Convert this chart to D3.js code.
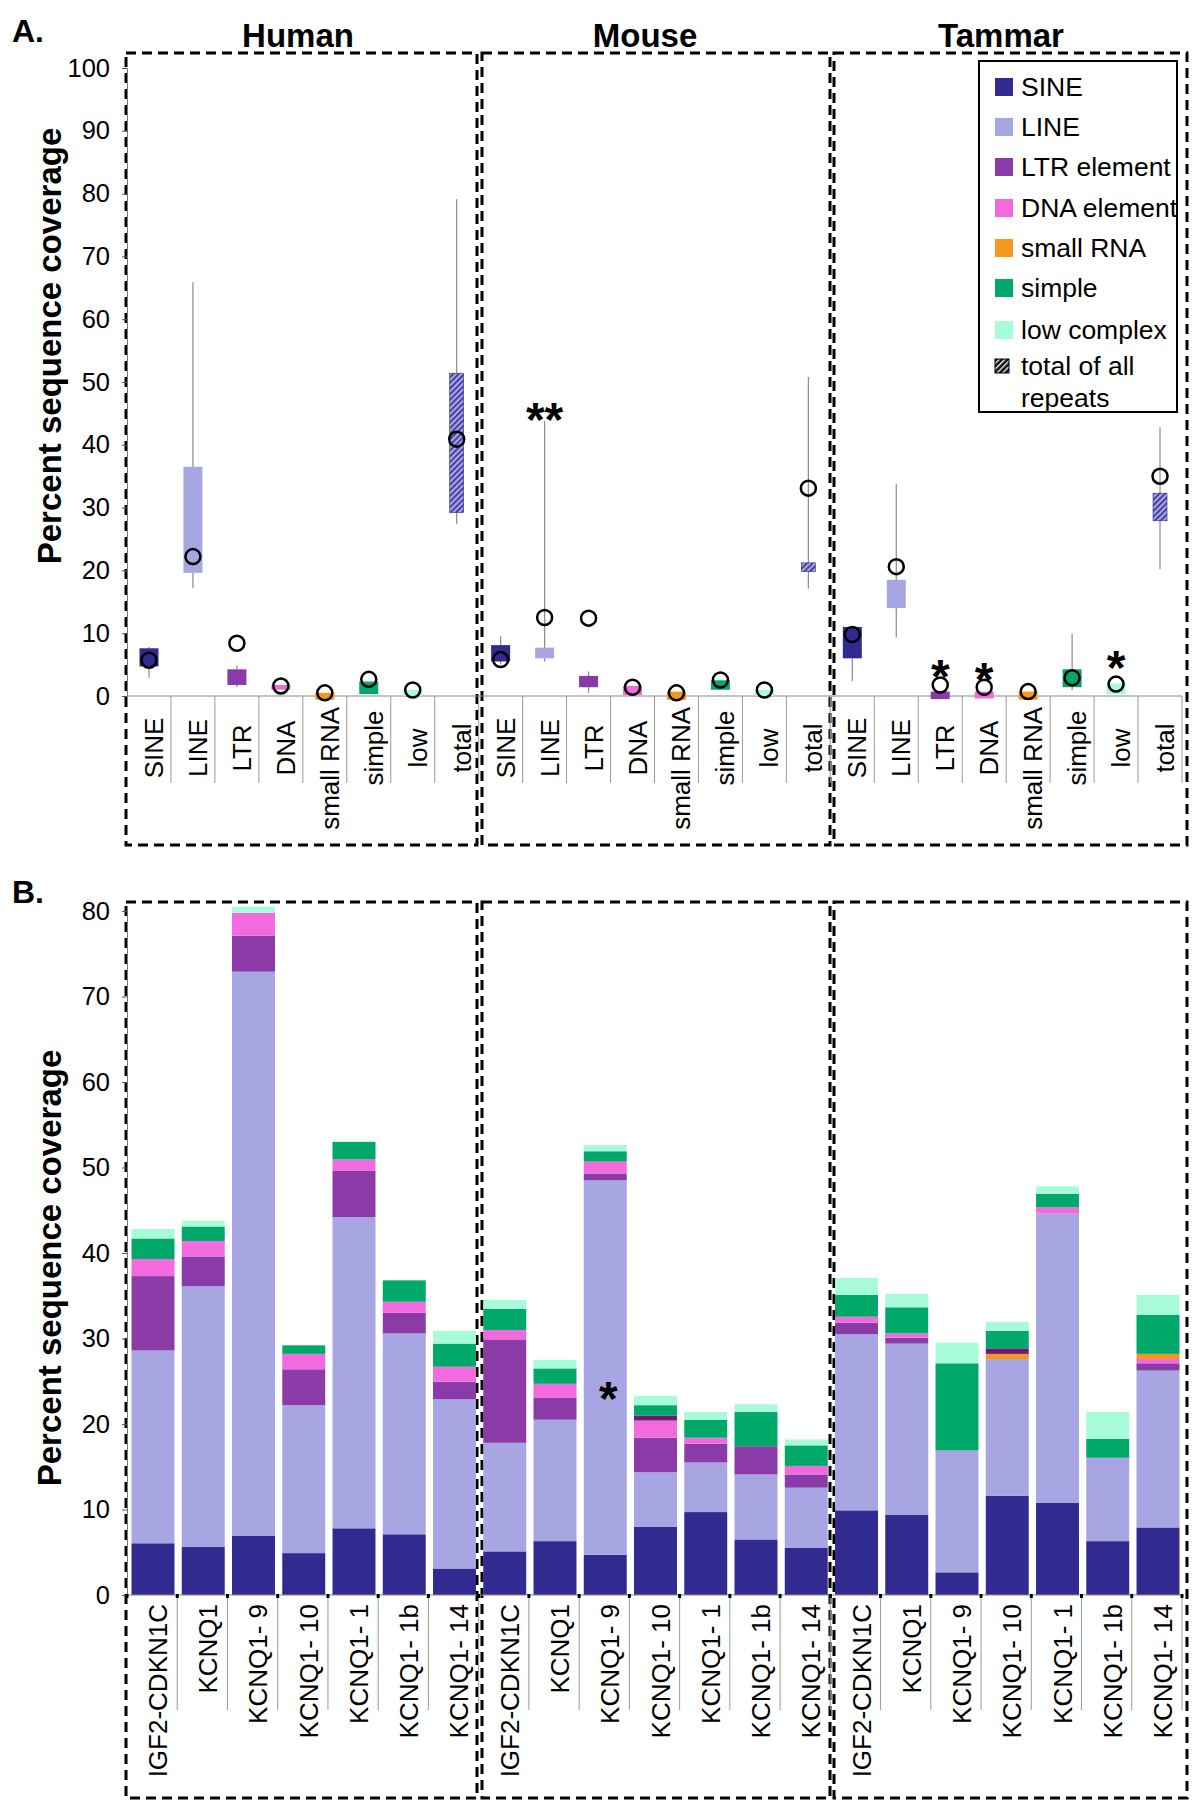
<!DOCTYPE html>
<html><head><meta charset="utf-8">
<script src="https://cdnjs.cloudflare.com/ajax/libs/d3/7.8.5/d3.min.js"></script>
<style>body{margin:0;background:#fff}svg{display:block}text{font-family:"Liberation Sans",Arial,sans-serif}</style>
</head><body>
<svg id="c" width="1200" height="1808"></svg>
<script>
// ---------- DATA ----------
const species = ["Human", "Mouse", "Tammar"];
const repeatCats = ["SINE", "LINE", "LTR", "DNA", "small RNA", "simple", "low", "total"];
const yTicksA = [0, 10, 20, 30, 40, 50, 60, 70, 80, 90, 100];
const yTicksB = [0, 10, 20, 30, 40, 50, 60, 70, 80];

// Panel A: box bottom / top, whisker low / high, circle value (per species, per repeat category)
const boxLo = {Human:[4.7,19.6,1.75,1.0,-0.6,0.3,0,29.2], Mouse:[5.5,6.0,1.4,0.15,-0.6,1.0,0,19.8], Tammar:[6.0,14.0,-0.5,-0.4,-0.6,1.4,0.3,27.9]};
const boxHi = {Human:[7.6,36.5,4.25,1.75,0.5,2.3,1.0,51.4], Mouse:[8.1,7.7,3.2,1.6,0.7,2.5,1.0,21.2], Tammar:[11.0,18.5,0.7,0.7,0.7,4.25,2.0,32.3]};
const whiskLo = {Human:[2.9,17.2,1.4,null,null,null,null,27.4], Mouse:[5.0,5.5,0.5,null,null,null,null,17.1], Tammar:[2.4,9.3,null,null,null,0.95,null,20.2]};
const whiskHi = {Human:[7.8,65.9,4.9,null,null,null,null,79.1], Mouse:[9.55,43.8,3.9,null,null,null,null,50.8], Tammar:[11.0,33.7,null,null,null,9.9,null,42.8]};
const circleVal = {Human:[5.7,22.2,8.4,1.6,0.5,2.65,0.95,40.9], Mouse:[5.8,12.5,12.4,1.4,0.5,2.55,0.95,33.1], Tammar:[9.8,20.6,1.75,1.4,0.7,2.9,1.9,35.0]};
// significance marks in panel A: [species, category, text, value at mark centre]
const marksA = [["Mouse","LINE","**",45.7],["Tammar","LTR","*",4.8],["Tammar","DNA","*",4.3],["Tammar","low","*",6.2]];

// Panel B: stacked bars
const regions = ["IGF2-CDKN1C", "KCNQ1", "KCNQ1- 9", "KCNQ1- 10", "KCNQ1- 1", "KCNQ1- 1b", "KCNQ1- 14"];
const stackKeys = ["SINE","LINE","LTR element","DNA element","small RNA","other","simple","low complex"];
const sineB   = {Human:[6.05,5.65,6.9,4.9,7.8,7.1,3.1],   Mouse:[5.1,6.3,4.7,8.0,9.7,6.5,5.5],   Tammar:[9.9,9.4,2.65,11.6,10.8,6.3,7.9]};
const lineB   = {Human:[22.55,30.45,66.0,17.3,36.4,23.5,19.8], Mouse:[12.7,14.2,43.8,6.35,5.8,7.6,7.05], Tammar:[20.6,20.0,14.25,16.0,33.8,9.75,18.35]};
const ltrB    = {Human:[8.7,3.5,4.2,4.2,5.4,2.4,2.05],    Mouse:[12.1,2.6,0.8,4.05,2.2,3.3,1.55], Tammar:[1.35,0.7,0,0,0,0,0.85]};
const dnaB    = {Human:[2.0,1.8,2.7,1.8,1.35,1.3,1.75],   Mouse:[1.1,1.6,1.4,2.0,0.7,0,1.0],     Tammar:[0.7,0.5,0,0,0.75,0,0.5]};
const srnaB   = {Human:[0,0,0,0,0,0,0],                   Mouse:[0,0,0,0,0,0,0],                 Tammar:[0,0,0,0.6,0,0,0.6]};
const otherB  = {Human:[0,0,0,0,0,0,0],                   Mouse:[0,0,0,0.6,0,0,0],               Tammar:[0,0,0,0.65,0,0,0]};
const simpleB = {Human:[2.4,1.7,0,1.0,2.05,2.5,2.7],      Mouse:[2.45,1.8,1.2,1.2,2.1,4.0,2.4],  Tammar:[2.55,3.05,10.2,2.05,1.55,2.2,4.55]};
const lowB    = {Human:[1.1,0.7,0.7,0,0,0,1.5],           Mouse:[1.05,1.0,0.7,1.1,0.9,0.9,0.7],  Tammar:[2.0,1.55,2.4,1.05,0.9,3.15,2.35]};
const marksB = [["Mouse","KCNQ1- 9","*",24.2]];

const legendLabels = ["SINE","LINE","LTR element","DNA element","small RNA","simple","low complex","total of all repeats"];

// ---------- STYLE ----------
const col = {"SINE":"#312b91","LINE":"#a7a6e2","LTR element":"#8a3ba7","DNA element":"#f26bde","small RNA":"#f7961f","other":"#6e1a6e","simple":"#00a86a","low complex":"#a8fbd9"};
const catColor = {"SINE":col["SINE"],"LINE":col["LINE"],"LTR":col["LTR element"],"DNA":col["DNA element"],"small RNA":col["small RNA"],"simple":col["simple"],"low":col["low complex"]};
const FONT = '"Liberation Sans",Arial,sans-serif';
const svg = d3.select("#c");
const defs = svg.append("defs");
const pat = defs.append("pattern").attr("id","hatch").attr("patternUnits","userSpaceOnUse").attr("width",4).attr("height",4).attr("patternTransform","rotate(45)");
pat.append("rect").attr("width",4).attr("height",4).attr("fill","#a7a6e2");
pat.append("rect").attr("width",1.6).attr("height",4).attr("fill","#312b91");
const pat2 = defs.append("pattern").attr("id","hatchLeg").attr("patternUnits","userSpaceOnUse").attr("width",4).attr("height",4).attr("patternTransform","rotate(45)");
pat2.append("rect").attr("width",4).attr("height",4).attr("fill","#111");
pat2.append("rect").attr("width",1.3).attr("height",4).attr("fill","#fff");

const X0 = 127, X1 = 1182;
const boxes = [[126,477],[482,830],[834,1187]];

function dashedBoxes(top, bottom){
  svg.append("g").selectAll("rect").data(boxes).join("rect")
    .attr("x",d=>d[0]).attr("y",top).attr("width",d=>d[1]-d[0]).attr("height",bottom-top)
    .attr("fill","none").attr("stroke","#000").attr("stroke-width",3).attr("stroke-dasharray","10,6");
}

// panel letters and titles
svg.append("text").attr("x",12).attr("y",42).attr("font-size",32).attr("font-weight","bold").text("A.");
svg.append("text").attr("x",12).attr("y",903).attr("font-size",32).attr("font-weight","bold").text("B.");
const titleX = [298, 645, 1001];
svg.append("g").selectAll("text").data(species).join("text")
  .attr("x",(d,i)=>titleX[i]).attr("y",47).attr("text-anchor","middle")
  .attr("font-size",33).attr("font-weight","bold").text(d=>d);

// ---------- PANEL A ----------
const keysA = species.flatMap(s=>repeatCats.map(c=>s+"|"+c));
const xA = d3.scaleBand().domain(keysA).range([X0,X1]).padding(0);
const yA = d3.scaleLinear().domain([0,100]).range([696,68]);
dashedBoxes(53, 845);

const gA = svg.append("g");
// y axis
const axA = gA.append("g").attr("transform",`translate(${X0},0)`).call(d3.axisLeft(yA).tickValues(yTicksA).tickSize(5).tickPadding(12));
axA.select(".domain").attr("stroke","#777");
axA.selectAll(".tick line").attr("stroke","#555");
axA.selectAll("text").attr("font-size",25.5).attr("font-family",FONT).attr("fill","#000");
// x axis line and separators
gA.append("line").attr("x1",X0).attr("x2",X1).attr("y1",yA(0)).attr("y2",yA(0)).attr("stroke","#888").attr("stroke-width",1.2);
gA.append("g").selectAll("line").data(keysA.slice(1).concat(["__end"])).join("line")
  .attr("x1",d=>d==="__end"?X1:xA(d)).attr("x2",d=>d==="__end"?X1:xA(d))
  .attr("y1",yA(0)).attr("y2",783).attr("stroke","#999").attr("stroke-width",1);

const recsA = species.flatMap(s=>repeatCats.map((c,i)=>({s,c,key:s+"|"+c,lo:boxLo[s][i],hi:boxHi[s][i],wl:whiskLo[s][i],wh:whiskHi[s][i],v:circleVal[s][i]})));
const cx = d=>xA(d.key)+xA.bandwidth()/2;
// whiskers
gA.append("g").selectAll("line").data(recsA.filter(d=>d.wl!=null)).join("line")
  .attr("x1",cx).attr("x2",cx).attr("y1",d=>yA(d.wl)).attr("y2",d=>yA(d.wh))
  .attr("stroke","#8a8a8a").attr("stroke-width",1.2);
// boxes
gA.append("g").selectAll("rect").data(recsA).join("rect")
  .attr("x",d=>cx(d)-(d.c==="total"?7:9.5)).attr("width",d=>d.c==="total"?14:19)
  .attr("y",d=>yA(d.hi)).attr("height",d=>yA(d.lo)-yA(d.hi))
  .attr("fill",d=>d.c==="total"?"url(#hatch)":catColor[d.c])
  .attr("stroke",d=>d.c==="total"?"#312b91":"none").attr("stroke-width",0.6);
// circles
gA.append("g").selectAll("circle").data(recsA).join("circle")
  .attr("cx",cx).attr("cy",d=>yA(d.v)).attr("r",7.5)
  .attr("fill","none").attr("stroke","#000").attr("stroke-width",2.5);
// category labels
const labA = gA.append("g").selectAll("text").data(recsA).join("text")
  .attr("font-size",26).attr("text-anchor","middle").text(d=>d.c);
labA.each(function(d){
  const L = this.getComputedTextLength();
  const cy = Math.max(748, 707 + L/2);
  d3.select(this).attr("transform",`translate(${cx(d)+14},${cy}) rotate(-90)`);
});
// significance marks
gA.append("g").selectAll("text").data(marksA).join("text")
  .attr("x",d=>xA(d[0]+"|"+d[1])+xA.bandwidth()/2).attr("y",d=>yA(d[3])+27)
  .attr("text-anchor","middle").attr("font-size",48).attr("font-weight","bold").text(d=>d[2]);
// y title
svg.append("text").attr("transform","translate(61,346) rotate(-90)").attr("text-anchor","middle")
  .attr("font-size",33).attr("font-weight","bold").text("Percent sequence coverage");

// legend
const lg = svg.append("g");
lg.append("rect").attr("x",979).attr("y",61).attr("width",198).attr("height",351).attr("fill","#fff").attr("stroke","#000").attr("stroke-width",2);
const legY = [87,127,167,208,248,288,330,366];
const legKeys = ["SINE","LINE","LTR element","DNA element","small RNA","simple","low complex","total"];
legKeys.forEach((k,i)=>{
  if(k==="total"){
    lg.append("rect").attr("x",995).attr("y",legY[i]-7).attr("width",14).attr("height",14).attr("fill","url(#hatchLeg)").attr("stroke","#000").attr("stroke-width",1);
  } else {
    lg.append("rect").attr("x",995).attr("y",legY[i]-9).attr("width",18).attr("height",18).attr("fill",col[k]);
  }
});
lg.selectAll("text.lt").data(legendLabels).join("text").attr("class","lt")
  .attr("x",1021).attr("y",(d,i)=>legY[i]+9).attr("font-size",26.5)
  .each(function(d){
    if(d==="total of all repeats"){
      d3.select(this).append("tspan").attr("x",1021).text("total of all");
      d3.select(this).append("tspan").attr("x",1021).attr("dy",32).text("repeats");
    } else d3.select(this).text(d);
  });

// ---------- PANEL B ----------
const keysB = species.flatMap(s=>regions.map(r=>s+"|"+r));
const xB = d3.scaleBand().domain(keysB).range([X0+1,X1+1]).paddingInner(0.145).paddingOuter(0.07);
const yB = d3.scaleLinear().domain([0,80]).range([1595,911]);
dashedBoxes(902, 1798);
const gB = svg.append("g");
const axB = gB.append("g").attr("transform",`translate(${X0},0)`).call(d3.axisLeft(yB).tickValues(yTicksB).tickSize(5).tickPadding(12));
axB.select(".domain").attr("stroke","#777");
axB.selectAll(".tick line").attr("stroke","#555");
axB.selectAll("text").attr("font-size",25.5).attr("font-family",FONT).attr("fill","#000");

const seriesSrc = {"SINE":sineB,"LINE":lineB,"LTR element":ltrB,"DNA element":dnaB,"small RNA":srnaB,"other":otherB,"simple":simpleB,"low complex":lowB};
const rows = keysB.map(k=>{
  const [s,r] = k.split("|"); const i = regions.indexOf(r);
  const o = {key:k};
  stackKeys.forEach(sk=>o[sk]=seriesSrc[sk][s][i]);
  return o;
});
const stacked = d3.stack().keys(stackKeys)(rows);
gB.append("g").selectAll("g").data(stacked).join("g").attr("fill",d=>col[d.key])
  .selectAll("rect").data(d=>d).join("rect")
  .attr("x",d=>xB(d.data.key)).attr("width",xB.bandwidth())
  .attr("y",d=>yB(d[1])).attr("height",d=>Math.max(0,yB(d[0])-yB(d[1])));

// x axis line, separators, tick dots
const bounds = d3.range(0,22).map(i=>X0+i*(X1-X0)/21);
gB.append("line").attr("x1",X0).attr("x2",X1).attr("y1",yB(0)).attr("y2",yB(0)).attr("stroke","#888").attr("stroke-width",1.2);
gB.append("g").selectAll("line").data(bounds.slice(1)).join("line")
  .attr("x1",d=>d).attr("x2",d=>d).attr("y1",yB(0)).attr("y2",1710).attr("stroke","#999").attr("stroke-width",1);
gB.append("g").selectAll("rect").data(bounds).join("rect")
  .attr("x",d=>d-1.5).attr("y",yB(0)-1).attr("width",3).attr("height",4).attr("fill","#000");
gB.append("g").selectAll("text").data(keysB).join("text")
  .attr("font-size",26).attr("text-anchor","end")
  .attr("transform",d=>`translate(${xB(d)+xB.bandwidth()/2+14},1604) rotate(-90)`)
  .text(d=>d.split("|")[1]);
gB.append("g").selectAll("text.m").data(marksB).join("text").attr("class","m")
  .attr("x",d=>xB(d[0]+"|"+d[1])+xB.bandwidth()/2+3).attr("y",d=>yB(d[3])+27)
  .attr("text-anchor","middle").attr("font-size",48).attr("font-weight","bold").text(d=>d[2]);
svg.append("text").attr("transform","translate(61,1268) rotate(-90)").attr("text-anchor","middle")
  .attr("font-size",33).attr("font-weight","bold").text("Percent sequence coverage");
</script>
</body></html>
